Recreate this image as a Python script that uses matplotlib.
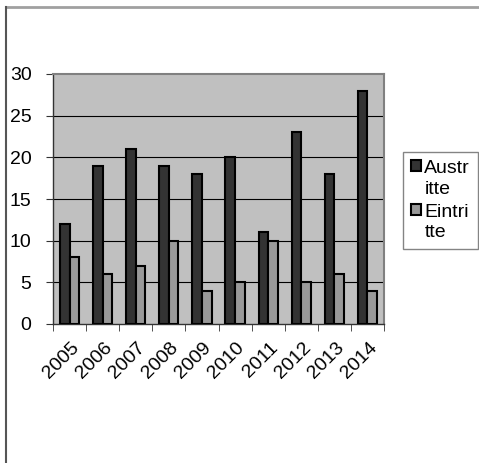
import matplotlib
matplotlib.use("Agg")
import matplotlib.pyplot as plt
import matplotlib.transforms as mtrans
import numpy as np
from matplotlib.patches import Patch
from matplotlib.lines import Line2D

years = ["2005", "2006", "2007", "2008", "2009", "2010", "2011", "2012", "2013", "2014"]
austritte = [12, 19, 21, 19, 18, 20, 11, 23, 18, 28]
eintritte = [8, 6, 7, 10, 4, 5, 10, 5, 6, 4]
series_labels = ["Austr\nitte", "Eintri\ntte"]
yticks = [0, 5, 10, 15, 20, 25, 30]

plt.rcParams['font.family'] = ['Liberation Sans', 'DejaVu Sans']

W, H = 479, 463
DPI = 100
fig = plt.figure(figsize=(W / DPI, H / DPI), dpi=DPI)

# outer frame lines (top and left)
fig.add_artist(Line2D([6 / W, 1], [1 - 7 / H, 1 - 7 / H], color="#a0a0a0", lw=2))
fig.add_artist(Line2D([6 / W, 6 / W], [0, 1 - 7 / H], color="#555555", lw=1.5))

left, right, top, bottom = 53, 384, 74, 324
ax = fig.add_axes([left / W, 1 - bottom / H, (right - left) / W, (bottom - top) / H])
ax.set_facecolor("#c0c0c0")

x = np.arange(len(years))
bw = 0.29
ax.bar(x - bw / 2, austritte, width=bw, color="#333333", edgecolor="black", linewidth=1.5, zorder=3)
ax.bar(x + bw / 2, eintritte, width=bw, color="#999999", edgecolor="black", linewidth=1.5, zorder=3)

ax.set_xlim(-0.5, len(years) - 0.5)
ax.set_ylim(0, 30)
ax.set_yticks(yticks)
ax.set_yticklabels([str(v) for v in yticks], fontsize=14)
for v in yticks[1:-1]:
    ax.axhline(v, color="black", lw=0.8, zorder=1)

ax.set_xticks(x)
ax.set_xticklabels(years, rotation=45, ha="right", va="top", rotation_mode="anchor", fontsize=14)
ax.tick_params(axis="x", length=0, pad=11)
shift = mtrans.ScaledTranslation(1 / DPI, 0, fig.dpi_scale_trans)
for lbl in ax.get_xticklabels():
    lbl.set_transform(lbl.get_transform() + shift)
ax.set_xticks(np.arange(-0.5, len(years)), minor=True)
ax.tick_params(axis="x", which="minor", length=5, color="#333333", direction="out")
ax.tick_params(axis="y", length=5, color="#333333", direction="out", pad=10.5)

for s in ["left", "bottom"]:
    ax.spines[s].set_color("#333333")
    ax.spines[s].set_linewidth(1)
for s in ["top", "right"]:
    ax.spines[s].set_color("#808080")
    ax.spines[s].set_linewidth(1.5)

handles = [Patch(facecolor="#333333", edgecolor="black", linewidth=1.5),
           Patch(facecolor="#999999", edgecolor="black", linewidth=1.5)]
leg = fig.legend(handles, series_labels, loc="upper left",
                 bbox_to_anchor=(403 / W, 1 - 152 / H), fontsize=14,
                 frameon=True, fancybox=False, edgecolor="#666666",
                 handlelength=0.55, handleheight=0.5, handletextpad=0.15,
                 borderpad=0.4, labelspacing=0.3, borderaxespad=0)
leg.get_frame().set_linewidth(1)
for t in leg.get_texts():
    t.set_linespacing(1.3)

fig.canvas.draw()
# move square markers up to the first line of each label
for h in leg.legend_handles:
    h.set_y(h.get_y() + 9)

fig.savefig("out.png", dpi=DPI)
